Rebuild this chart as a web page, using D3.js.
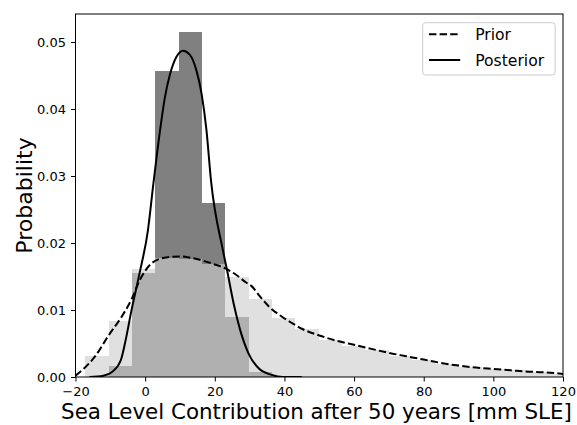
<!DOCTYPE html>
<html>
<head>
<meta charset="utf-8">
<script src="https://cdn.jsdelivr.net/npm/d3@7"></script>
<style>
  html, body { margin: 0; padding: 0; background: #fff; }
  svg { display: block; font-family: "DejaVu Sans", sans-serif; }
</style>
</head>
<body>
<svg id="chart" width="577" height="425"></svg>
<script>
// Shared histogram bin edges (mm SLE)
const binEdges = [-17.2, -10.5, -3.8, 2.9, 9.6, 16.3, 23.0, 29.7, 36.4, 43.1, 49.8,
                  56.5, 63.2, 69.9, 76.6, 83.3, 90.0, 96.7, 103.4, 110.1, 116.8, 123.5];

// Normalised histogram heights, one per bin
const priorHist = [0.0031, 0.0083, 0.0161, 0.0178, 0.0176, 0.0168, 0.0149, 0.0117, 0.0088,
                   0.0071, 0.0055, 0.0046, 0.0040, 0.0032, 0.0025, 0.0019, 0.0015, 0.0012,
                   0.0010, 0.0008, 0.0005];
const posteriorHist = [0, 0.0016, 0.0155, 0.0456, 0.0515, 0.0260, 0.0089, 0.0008, 0, 0,
                       0, 0, 0, 0, 0, 0, 0, 0, 0, 0, 0];

// Kernel density estimates: [x, density]
const priorKde = [[-20, 0.0002], [-17.5, 0.0013], [-14.5, 0.0030], [-10.5, 0.0062], [-7, 0.0088],
  [-4, 0.0115], [-1.5, 0.0145], [1.5, 0.0168], [4, 0.0176], [7, 0.0179], [10, 0.0180],
  [13, 0.0178], [17, 0.0173], [20, 0.0168], [23, 0.0162], [26, 0.0153], [29, 0.0141],
  [30.5, 0.0136], [33, 0.0120], [36, 0.0103], [39, 0.0091], [42, 0.0081], [45, 0.0072],
  [50, 0.0062], [55, 0.0054], [60, 0.0048], [65, 0.0042], [70, 0.0036], [75, 0.0031],
  [80, 0.0026], [85, 0.0021], [90, 0.0017], [95, 0.0014], [100, 0.0012], [105, 0.0010],
  [110, 0.0008], [115, 0.0007], [120, 0.00045]];
const posteriorKde = [[-16, 0], [-12, 0.0002], [-9.4, 0.0008], [-7, 0.0025], [-5.6, 0.0055],
  [-4.1, 0.0095], [-1.6, 0.0155], [0.8, 0.0219], [2.4, 0.0290], [4.3, 0.0369], [5.7, 0.0418],
  [7.1, 0.0451], [9, 0.0478], [10.9, 0.0487], [12.8, 0.0481], [14.7, 0.0458], [16.2, 0.0423],
  [17.6, 0.0369], [18.9, 0.0294], [22.3, 0.0190], [23.5, 0.0160], [25.4, 0.0110],
  [27.3, 0.0070], [29.7, 0.0035], [32.6, 0.0013], [36.4, 0.0003], [39.5, 0], [45, 0]];

const xTicks = [-20, 0, 20, 40, 60, 80, 100, 120];
const yTicks = [0, 0.01, 0.02, 0.03, 0.04, 0.05];
const legendLabels = ["Prior", "Posterior"];

const svg = d3.select("#chart");
const plot = { left: 75.5, right: 563, top: 14, bottom: 377 };

const x = d3.scaleLinear().domain([-20, 120]).range([plot.left, plot.right]);
const y = d3.scaleLinear().domain([0, 0.05418]).range([plot.bottom, plot.top]);

svg.append("defs").append("clipPath").attr("id", "plotClip")
  .append("rect")
  .attr("x", plot.left).attr("y", plot.top)
  .attr("width", plot.right - plot.left).attr("height", plot.bottom - plot.top);

const area = svg.append("g").attr("clip-path", "url(#plotClip)");

function bins(values) {
  return values.map((v, i) => ({ x0: binEdges[i], x1: binEdges[i + 1], v }))
               .filter(d => d.v > 0);
}

// Posterior histogram (dark), then prior histogram laid over it semi-transparently
area.append("g").selectAll("rect").data(bins(posteriorHist)).join("rect")
  .attr("x", d => x(d.x0)).attr("width", d => x(d.x1) - x(d.x0))
  .attr("y", d => y(d.v)).attr("height", d => y(0) - y(d.v))
  .attr("fill", "#808080")
  .attr("shape-rendering", "crispEdges");

area.append("g").selectAll("rect").data(bins(priorHist)).join("rect")
  .attr("x", d => x(d.x0)).attr("width", d => x(d.x1) - x(d.x0))
  .attr("y", d => y(d.v)).attr("height", d => y(0) - y(d.v))
  .attr("fill", "#cdcdcd").attr("fill-opacity", 0.62)
  .attr("shape-rendering", "crispEdges");

const line = d3.line().x(d => x(d[0])).y(d => y(d[1])).curve(d3.curveMonotoneX);

area.append("path").datum(priorKde)
  .attr("d", line).attr("fill", "none")
  .attr("stroke", "#000").attr("stroke-width", 2)
  .attr("stroke-dasharray", "7.4,3.2");

area.append("path").datum(posteriorKde)
  .attr("d", line).attr("fill", "none")
  .attr("stroke", "#000").attr("stroke-width", 2);

// Axes
const xAxis = svg.append("g")
  .attr("transform", `translate(0,${plot.bottom})`)
  .call(d3.axisBottom(x).tickValues(xTicks).tickSize(4.5).tickPadding(5)
        .tickFormat(d => d < 0 ? "\u2212" + Math.abs(d) : d));
const yAxis = svg.append("g")
  .attr("transform", `translate(${plot.left},0)`)
  .call(d3.axisLeft(y).tickValues(yTicks).tickSize(4.5).tickPadding(5)
        .tickFormat(d3.format(".2f")));

[xAxis, yAxis].forEach(g => {
  g.select(".domain").remove();
  g.selectAll(".tick line").attr("stroke", "#000").attr("stroke-width", 1);
  g.selectAll(".tick text").attr("font-size", 13).attr("fill", "#000")
    .attr("font-family", "DejaVu Sans");
});

// Frame
svg.append("rect")
  .attr("x", plot.left).attr("y", plot.top)
  .attr("width", plot.right - plot.left).attr("height", plot.bottom - plot.top)
  .attr("fill", "none").attr("stroke", "#000").attr("stroke-width", 1);

// Axis titles
svg.append("text")
  .attr("x", 316.5).attr("y", 419)
  .attr("text-anchor", "middle").attr("font-size", 21.4)
  .text("Sea Level Contribution after 50 years [mm SLE]");

svg.append("text")
  .attr("transform", `translate(31.5,${(plot.top + plot.bottom) / 2}) rotate(-90)`)
  .attr("text-anchor", "middle").attr("font-size", 22)
  .text("Probability");

// Legend
const legend = svg.append("g").attr("transform", "translate(422.7,22.7)");
legend.append("rect")
  .attr("width", 132.5).attr("height", 52.3).attr("rx", 3)
  .attr("fill", "#fff").attr("fill-opacity", 0.8)
  .attr("stroke", "#cccccc").attr("stroke-width", 1);
legendLabels.forEach((label, i) => {
  const row = legend.append("g").attr("transform", `translate(0,${11.6 + i * 25.7})`);
  row.append("line")
    .attr("x1", 6.3).attr("x2", 37.5).attr("y1", 0).attr("y2", 0)
    .attr("stroke", "#000").attr("stroke-width", 2)
    .attr("stroke-dasharray", i === 0 ? "7.4,3.2" : null);
  row.append("text")
    .attr("x", 52.5).attr("y", 0).attr("dy", "0.36em")
    .attr("font-size", 15.6)
    .text(label);
});
</script>
</body>
</html>
